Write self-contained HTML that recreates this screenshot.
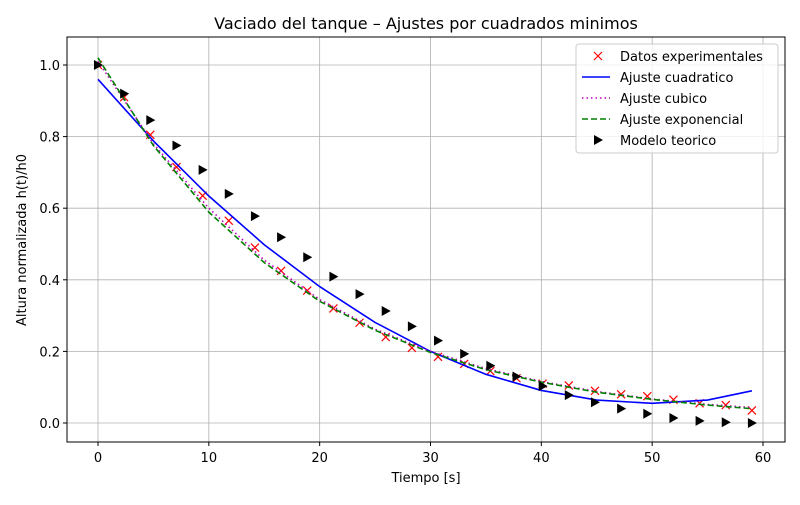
<!DOCTYPE html>
<html><head><meta charset="utf-8"><style>
body{margin:0;background:#fff;font-family:"Liberation Sans","DejaVu Sans",sans-serif;}
</style></head><body>
<svg id="chart" width="800" height="500" xmlns="http://www.w3.org/2000/svg" font-family="DejaVu Sans, Liberation Sans, sans-serif">
<rect width="800" height="500" fill="#fff"/>
<g id="grid"></g>
<g id="series"></g>
<rect x="67" y="37" width="718" height="405" fill="none" stroke="#000" stroke-width="1"/>
<g id="ticks" font-size="13"></g>
<text x="426" y="29" text-anchor="middle" font-size="16">Vaciado del tanque – Ajustes por cuadrados minimos</text>
<text x="426" y="482" text-anchor="middle" font-size="13">Tiempo [s]</text>
<text transform="translate(26,240) rotate(-90)" text-anchor="middle" font-size="13">Altura normalizada h(t)/h0</text>
<g id="legend">
<rect x="576" y="44" width="202" height="109" rx="3" fill="#fff" fill-opacity="0.8" stroke="#ccc"/>
</g>
</svg>
<script>
const tData = [0,2.36,4.72,7.08,9.44,11.8,14.16,16.52,18.88,21.24,23.6,25.96,28.32,30.68,33.04,35.4,37.76,40.12,42.48,44.84,47.2,49.56,51.92,54.28,56.64,59];
const hExp = [1.0,0.91,0.805,0.715,0.635,0.565,0.49,0.425,0.37,0.32,0.28,0.24,0.21,0.185,0.165,0.145,0.125,0.11,0.105,0.09,0.08,0.075,0.065,0.055,0.05,0.035];
const hTheory = [1,0.92,0.846,0.775,0.707,0.64,0.578,0.519,0.463,0.409,0.36,0.313,0.27,0.23,0.193,0.16,0.13,0.103,0.078,0.058,0.04,0.026,0.014,0.006,0.002,0];
const tFit = [0,5,10,15,20,25,30,35,40,45,50,55,59];
const fitQuad = [0.96,0.788,0.634,0.498,0.381,0.281,0.2,0.136,0.091,0.064,0.055,0.064,0.09];
const fitCubic = [1.01,0.78,0.6,0.455,0.345,0.262,0.2,0.152,0.116,0.088,0.067,0.052,0.043];
const fitExpo = [1.02,0.775,0.589,0.448,0.34,0.259,0.197,0.149,0.114,0.086,0.066,0.05,0.04];
const xTicks = [0,10,20,30,40,50,60];
const yTicks = [0,0.2,0.4,0.6,0.8,1.0];
const yTickLabels = ["0.0","0.2","0.4","0.6","0.8","1.0"];

const NS="http://www.w3.org/2000/svg";
const X = t => 98 + t*(763-98)/60;
const Y = v => 423 - v*358;
function mk(tag, attrs, parent){const e=document.createElementNS(NS,tag);for(const k in attrs)e.setAttribute(k,attrs[k]);parent.appendChild(e);return e;}
const grid=document.getElementById('grid'), ticks=document.getElementById('ticks'), ser=document.getElementById('series'), leg=document.getElementById('legend');
xTicks.forEach(t=>{
  const g=mk('line',{x1:X(t),x2:X(t),y1:37,y2:442,stroke:'#b0b0b0','stroke-width':0.8},grid);
  
  
  mk('line',{x1:X(t),x2:X(t),y1:442,y2:446,stroke:'#000'},ticks);
  const l=mk('text',{x:X(t),y:462,'text-anchor':'middle'},ticks);l.textContent=t;
  
  
});
yTicks.forEach((v,i)=>{
  const g=mk('line',{x1:67,x2:785,y1:Y(v),y2:Y(v),stroke:'#b0b0b0','stroke-width':0.8},grid);
  
  
  mk('line',{x1:63,x2:67,y1:Y(v),y2:Y(v),stroke:'#000'},ticks);
  const l=mk('text',{x:60,y:Y(v)+5,'text-anchor':'end'},ticks);l.textContent=yTickLabels[i];
  
  
});
function line(ts,vs,color,dash,name){
  const d=ts.map((t,i)=>(i?'L':'M')+X(t)+' '+Y(vs[i])).join(' ');
  const p=mk('path',{d:d,fill:'none',stroke:color,'stroke-width':1.6,'stroke-dasharray':dash||'none'},ser);
  
  
}
function xMark(x,y,parent){return mk('path',{d:`M${x-4} ${y-4}L${x+4} ${y+4}M${x-4} ${y+4}L${x+4} ${y-4}`,stroke:'red','stroke-width':1.2,fill:'none'},parent);}
function tri(x,y,parent){return mk('path',{d:`M${x-4} ${y-5}L${x+5} ${y}L${x-4} ${y+5}Z`,fill:'#000'},parent);}
tData.forEach((t,i)=>{
  const m=xMark(X(t),Y(hExp[i]),ser);
  
  
});
line(tFit,fitQuad,'#0000ff',null,'quadratic-fit-line');
line(tFit,fitCubic,'#bf00bf','1.5 3','cubic-fit-line');
line(tFit,fitExpo,'#008000','6 3','exponential-fit-line');
tData.forEach((t,i)=>{
  const m=tri(X(t),Y(hTheory[i]),ser);
  
  
});
const entries=[['Datos experimentales','x'],['Ajuste cuadratico','#0000ff'],['Ajuste cubico','#bf00bf'],['Ajuste exponencial','#008000'],['Modelo teorico','tri']];
entries.forEach((e,i)=>{
  const y=56+i*21;
  if(e[1]==='x') xMark(598,y,leg);
  else if(e[1]==='tri') tri(598,y,leg);
  else mk('line',{x1:582,x2:610,y1:y,y2:y,stroke:e[1],'stroke-width':1.6,'stroke-dasharray':i===2?'1.5 3':(i===3?'6 3':'none')},leg);
  const t=mk('text',{x:620,y:y+5,'font-size':13},leg);t.textContent=e[0];
  
  
});
</script>
</body></html>
